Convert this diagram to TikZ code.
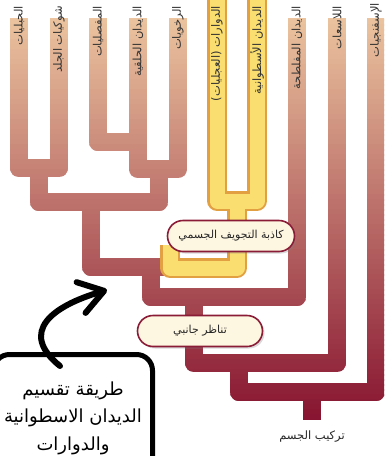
\documentclass[tikz,border=0pt]{standalone}
\usepackage{fontspec}
\newfontfamily\arabicfont[Script=Arabic]{DejaVu Sans}
\TeXXeTstate=1
\usetikzlibrary{arrows.meta,calc,shadows}
\definecolor{tubetop}{RGB}{240,204,164}
\definecolor{tubebot}{RGB}{135,20,48}
\definecolor{rimyellow}{RGB}{226,160,66}
\definecolor{fillyellow}{RGB}{250,222,112}
\definecolor{labelfill}{RGB}{253,246,224}
\definecolor{labeldraw}{RGB}{139,28,56}
\newcommand\ar[1]{\arabicfont\beginR #1\endR}

\begin{document}
\begin{tikzpicture}[x=1pt,y=-1pt, line join=round,
    tube/.style={line width=18.5pt},
    taxon/.style={rotate=90, anchor=east, inner sep=0pt, text=black!80, font=\fontsize{11.5}{12}\selectfont},
    cladelabel/.style={draw=labeldraw, line width=1.6pt, fill=labelfill, rounded corners=15.5pt,
        minimum height=31pt, text=black!85, font=\fontsize{11}{13}\selectfont,
        drop shadow={opacity=0.3, shadow xshift=2pt, shadow yshift=-2pt}},
    notebox/.style={draw, line width=5pt, rounded corners=16pt, minimum width=159pt,
        minimum height=127pt, align=center, font=\fontsize{18}{27.5}\selectfont},
    pointer/.style={line width=6pt, line cap=round, -{Straight Barb[length=24pt, width=32pt, line width=6pt, round]}}]
\useasboundingbox (0,0) rectangle (384,456);
\clip (0,0) rectangle (384,456);
% brown part of the tree, shaded in bands from top to bottom
\def\browntree{(19,18) -- (19,168) -- (59,168) -- (59,18)
    (98,18) -- (98,142) -- (138,142)
    (138,18) -- (138,169) -- (178,169) -- (178,18)
    (39,168) -- (39,202) -- (159,202) -- (159,169)
    (91,202) -- (91,267) -- (168,267)
    (151,267) -- (151,297) -- (297,297) -- (297,18)
    (194,297) -- (194,363) -- (337,363) -- (337,18)
    (239,363) -- (239,392) -- (376,392) -- (376,18)
    (312,392) -- (312,420)}
\foreach \y in {0,5,...,425}{
    \pgfmathsetmacro\p{min(100,(\y+2.5)/4.2)}
    \begin{scope}
        \clip (0,\y-0.4) rectangle (384,\y+5.4);
        \draw[tube, color=tubebot!\p!tubetop] \browntree;
    \end{scope}
}
% rotifers and roundworms
\def\yellowtree{(217,0) -- (217,201) -- (257,201) -- (257,0)
    (237,201) -- (237,268) -- (170,268) -- (170,245)}
\draw[line width=19.5pt, rimyellow] \yellowtree;
\draw[line width=15pt, fillyellow] \yellowtree;
% names of the groups
\node[taxon] (chord) at (19,6) {\ar{الحبليات}};
\node[taxon] (echin) at (59,6) {\ar{شوكيات الجلد}};
\node[taxon] (arth) at (98,6) {\ar{المفصليات}};
\node[taxon] (annel) at (138,6) {\ar{الديدان الحلقية}};
\node[taxon] (moll) at (178,6) {\ar{الرخويات}};
\node[taxon] (rotif) at (217,6) {\ar{الدوارات (العجليات)}};
\node[taxon] (round) at (257,6) {\ar{الديدان الأسطوانية}};
\node[taxon] (flat) at (297,6) {\ar{الديدان المفلطحة}};
\node[taxon] (cnid) at (337,6) {\ar{اللاسعات}};
\node[taxon] (spong) at (376,3) {\ar{الإسفنجيات}};
% characters on the branches
\node[cladelabel, minimum width=127pt] (pseudo) at (231,236) {\ar{كاذبة التجويف الجسمي}};
\node[cladelabel, minimum width=125pt] (bilat) at (200,331) {\ar{تناظر جانبي}};
\node[text=black!85, font=\fontsize{11.5}{12}\selectfont] (body) at (312,437) {\ar{تركيب الجسم}};
% note with arrow
\node[notebox] (note) at (73,418) {\ar{طريقة تقسيم}\\\ar{الديدان الاسطوانية}\\\ar{والدوارات}};
\coordinate (target) at (107,290);
\draw[pointer] ($(note.north)+(-13,14)$) .. controls (18,332) and (52,306) .. (target);
\end{tikzpicture}
\end{document}
